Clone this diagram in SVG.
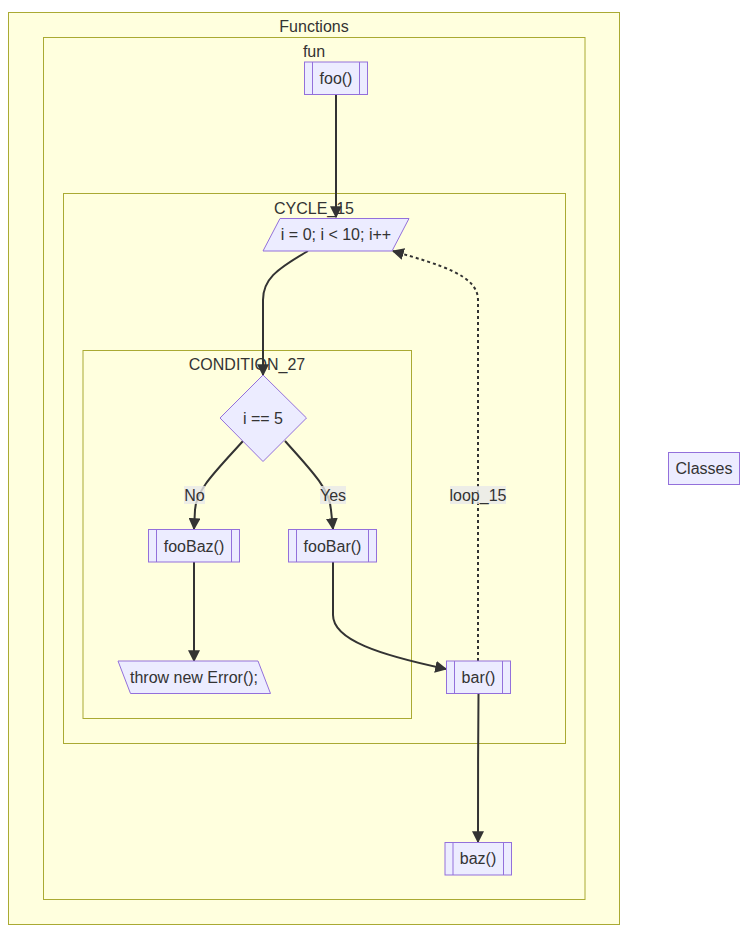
<svg xmlns="http://www.w3.org/2000/svg" width="755" height="938" viewBox="0 0 755 938">
<style>
.cl{fill:#ffffde;stroke:#aaaa33;stroke-width:1}
.nd{fill:#ececff;stroke:#9370db;stroke-width:1}
.t{font-family:"Liberation Sans",Arial,sans-serif;font-size:16px;fill:#333;text-anchor:middle;dominant-baseline:central}
.e{fill:none;stroke:#333;stroke-width:2}
.d{stroke-dasharray:3,3}
.lb{fill:#e8e8e8;opacity:0.8}
</style>
<defs>
<marker id="ah" viewBox="0 0 10 10" refX="9" refY="5" markerWidth="6" markerHeight="6" markerUnits="userSpaceOnUse" orient="auto">
<path d="M0,0 L10,5 L0,10 z" fill="#333"/>
</marker>
<marker id="ah2" viewBox="0 0 10 10" refX="9" refY="5" markerWidth="12" markerHeight="12" markerUnits="userSpaceOnUse" orient="auto">
<path d="M0,0 L10,5 L0,10 z" fill="#333"/>
</marker>
</defs>
<g id="clusters">
<g id="Functions"><rect class="cl" x="8.5" y="12.5" width="611" height="912"/><text class="t" x="314" y="26">Functions</text></g>
<g id="fun"><rect class="cl" x="43.5" y="37.5" width="541.5" height="862"/><text class="t" x="314" y="51">fun</text></g>
<g id="CYCLE_15"><rect class="cl" x="63.5" y="193.5" width="502" height="550"/><text class="t" x="314" y="208">CYCLE_15</text></g>
<g id="CONDITION_27"><rect class="cl" x="83" y="350.5" width="328.5" height="368"/><text class="t" x="247" y="364">CONDITION_27</text></g>
</g>
<g id="edges">
<path class="e" marker-end="url(#ah2)" d="M336,95 C336,130 336,180 336,217"/>
<path class="e" marker-end="url(#ah2)" d="M308,251 C275,270 263,280 263,300 L263,375"/>
<path class="e" marker-end="url(#ah2)" d="M243,441 C215,472 196,490 195,510 L194,529"/>
<path class="e" marker-end="url(#ah2)" d="M285,441 C313,472 330,490 331,510 L333,529"/>
<path class="e" marker-end="url(#ah2)" d="M194,562 C194,600 194,630 194,661"/>
<path class="e" marker-end="url(#ah2)" d="M333,562 L333,615 C333,640 380,655 446,669"/>
<path class="e d" marker-end="url(#ah2)" d="M478,661 L478,300 C478,275 440,265 393,251"/>
<path class="e" marker-end="url(#ah2)" d="M478.5,694 C478,740 478,800 478,842"/>
<rect class="lb" x="184" y="486" width="21" height="18"/><text class="t" x="194.5" y="495">No</text>
<rect class="lb" x="320" y="486" width="26" height="18"/><text class="t" x="333" y="495">Yes</text>
<rect class="lb" x="450" y="486" width="56" height="18"/><text class="t" x="478" y="495">loop_15</text>
</g>
<g id="foo"><rect class="nd" x="304.5" y="62" width="63" height="32.5"/><line class="nd" x1="312.5" y1="62" x2="312.5" y2="94.5"/><line class="nd" x1="359.5" y1="62" x2="359.5" y2="94.5"/><text class="t" x="336" y="78">foo()</text></g>
<g id="for"><polygon class="nd" points="263,251 280,218.5 409,218.5 392,251"/><text class="t" x="336" y="234.5">i = 0; i &lt; 10; i++</text></g>
<g id="cond"><polygon class="nd" points="263,375 306.5,418 263,461.5 220,418"/><text class="t" x="263" y="418">i == 5</text></g>
<g id="fooBaz"><rect class="nd" x="148.5" y="529.5" width="91" height="32.5"/><line class="nd" x1="156.5" y1="529.5" x2="156.5" y2="562"/><line class="nd" x1="231.5" y1="529.5" x2="231.5" y2="562"/><text class="t" x="194" y="546">fooBaz()</text></g>
<g id="fooBar"><rect class="nd" x="288.5" y="529.5" width="88" height="32.5"/><line class="nd" x1="296.5" y1="529.5" x2="296.5" y2="562"/><line class="nd" x1="368.5" y1="529.5" x2="368.5" y2="562"/><text class="t" x="332.5" y="546">fooBar()</text></g>
<g id="throw"><polygon class="nd" points="118,661 258,661 270.5,693.5 130.5,693.5"/><text class="t" x="194" y="677">throw new Error();</text></g>
<g id="bar"><rect class="nd" x="446.5" y="661" width="64" height="32.5"/><line class="nd" x1="454.5" y1="661" x2="454.5" y2="693.5"/><line class="nd" x1="502.5" y1="661" x2="502.5" y2="693.5"/><text class="t" x="478.5" y="677">bar()</text></g>
<g id="baz"><rect class="nd" x="445" y="842.5" width="66.5" height="32.5"/><line class="nd" x1="453" y1="842.5" x2="453" y2="875"/><line class="nd" x1="503.5" y1="842.5" x2="503.5" y2="875"/><text class="t" x="478" y="858.5">baz()</text></g>
<g id="Classes"><rect class="nd" x="668.5" y="452.5" width="71" height="32"/><text class="t" x="704" y="468">Classes</text></g>
</svg>
